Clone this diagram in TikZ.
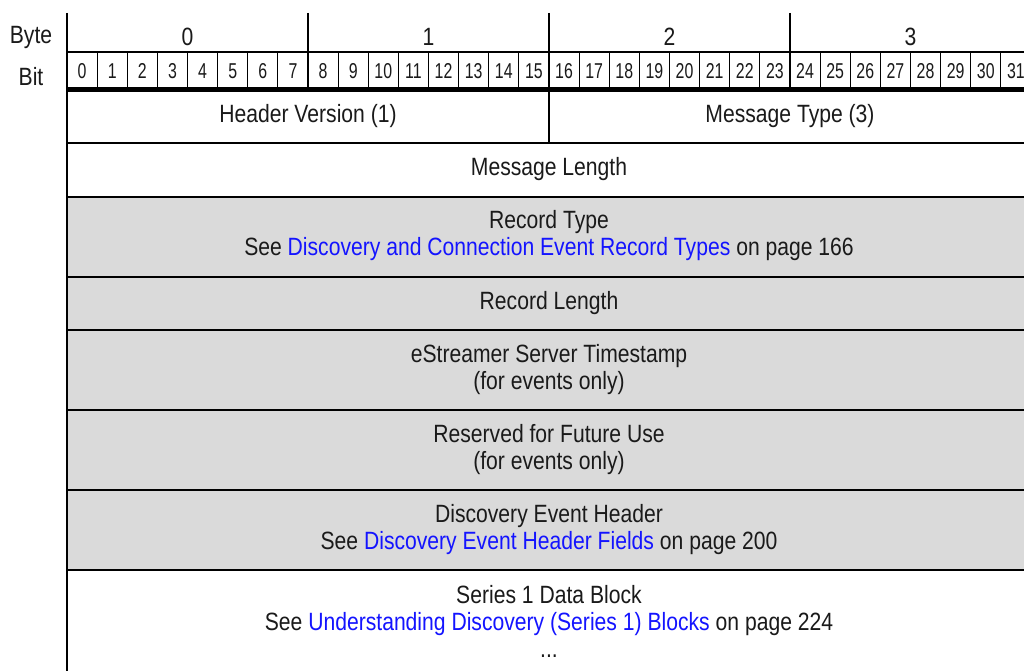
\documentclass[tikz,border=0pt]{standalone}
\usepackage{fontspec}
\setmainfont{Liberation Sans}[FakeStretch=0.845]
\newfontfamily\bitfont{Liberation Sans}[FakeStretch=0.74]
\definecolor{rowgray}{HTML}{DADADA}
\definecolor{linkblue}{HTML}{1414FF}
\definecolor{ink}{HTML}{1A1A1A}
\tikzset{
  field/.style={text=ink, font=\fontsize{25}{27}\selectfont, align=center, inner sep=0pt},
  bitnum/.style={text=ink, font=\bitfont\fontsize{21.5}{22}\selectfont, inner sep=0pt},
  rowline/.style={line width=2pt, draw=black},
  bitline/.style={line width=0.9pt, draw=black},
  shaded/.style={fill=rowgray, draw=none},
}
\newcommand{\lnk}[1]{\textcolor{linkblue}{#1}}
\begin{document}
\begin{tikzpicture}[x=1pt, y=-1pt]
\useasboundingbox (0,0) rectangle (1024,671);
\clip (0,0) rectangle (1024,671);
\fill[white] (0,0) rectangle (1024,671);

% shaded rows
\fill[shaded] (67,197) rectangle (1040,570);

% byte and bit headings
\node[field] (bytelbl) at (31,37) {Byte};
\node[field] (bitlbl) at (31,77) {Bit};
\foreach \b in {0,1,2,3}{
  \node[field] (byte\b) at ({67+241*\b+120.5},37) {\b};
}

% byte ticks
\foreach \b in {1,2,3}{
  \draw[line width=1.8pt] ({67+241*\b},13) -- ({67+241*\b},88);
}

% bit cells
\draw[line width=1.6pt] (67,52) -- (1040,52);
\foreach \i in {0,...,31}{
  \node[bitnum] (bit\i) at ({67+30.125*\i+15.06},71) {\i};
}
\foreach \i in {1,...,31}{
  \draw[bitline] ({67+30.125*\i},52) -- ({67+30.125*\i},88);
}
\draw[line width=5pt] (67,90) -- (1040,90);

% row separators
\foreach \yy in {143,197,277,330,410,490,570}{
  \draw[rowline] (67,\yy) -- (1040,\yy);
}
\draw[rowline] (549,92) -- (549,143);

% left edge
\draw[line width=2pt] (67,13) -- (67,675);

% field labels
\node[field] (hver) at (308,116) {Header Version (1)};
\node[field] (mtype) at (790,116) {Message Type (3)};
\node[field] (mlen) at (549,169) {Message Length};
\node[field] (rtype) at (549,236) {Record Type\\See \lnk{Discovery and Connection Event Record Types} on page 166};
\node[field] (rlen) at (549,303) {Record Length};
\node[field] (ests) at (549,370) {eStreamer Server Timestamp\\(for events only)};
\node[field] (resv) at (549,450) {Reserved for Future Use\\(for events only)};
\node[field] (deh) at (549,530) {Discovery Event Header\\See \lnk{Discovery Event Header Fields} on page 200};
\node[field, anchor=north] (s1) at (549,585) {Series 1 Data Block\\See \lnk{Understanding Discovery (Series 1) Blocks} on page 224\\...};
\end{tikzpicture}
\end{document}
